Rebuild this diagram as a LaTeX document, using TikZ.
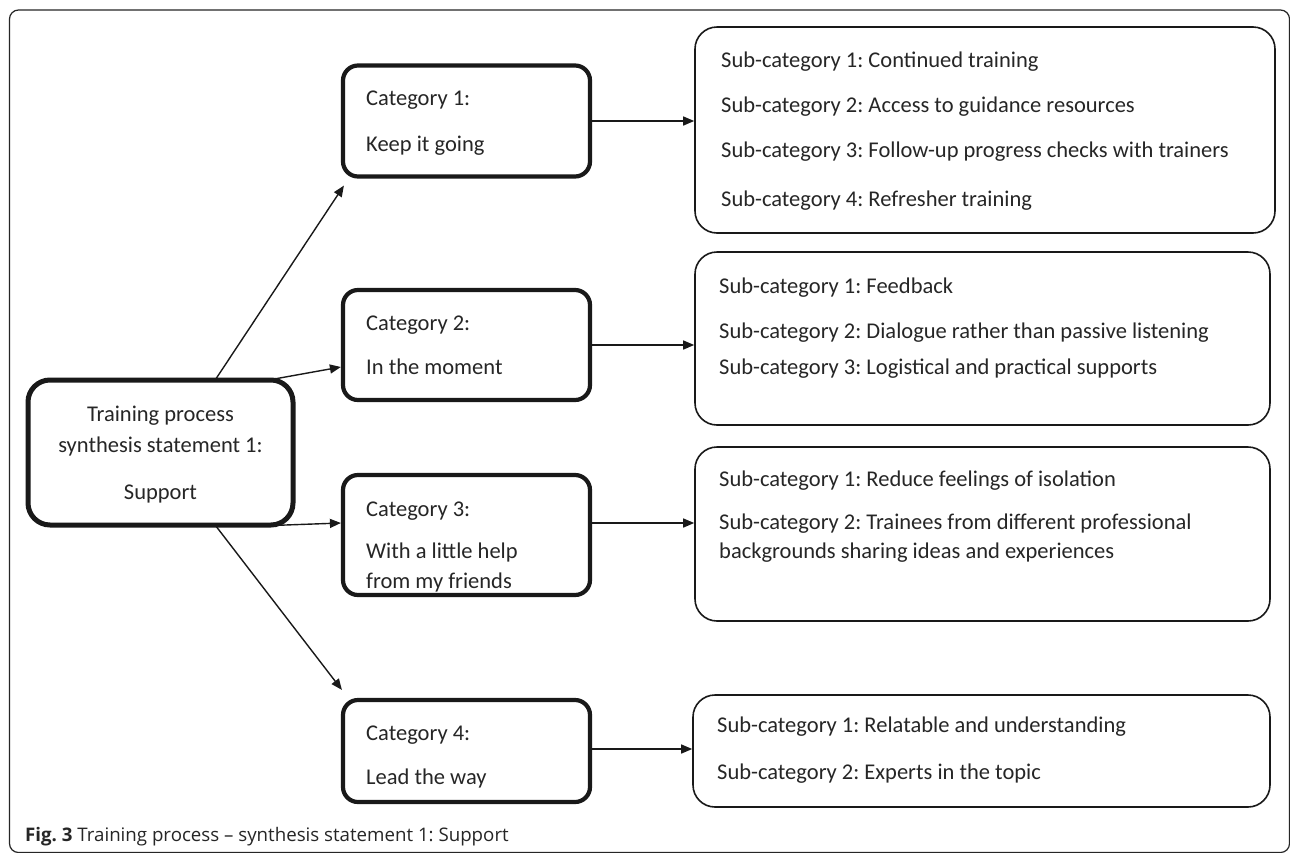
\documentclass[tikz,border=0pt]{standalone}
\usepackage{fontspec}
\setmainfont{Carlito}
\newfontfamily\capfont{Open Sans}
\usetikzlibrary{arrows.meta}
\frenchspacing
\begin{document}
\begin{tikzpicture}[x=1pt,y=-1pt,
  catbox/.style={draw=black!90, line width=4.2pt, rounded corners=15pt, inner sep=0pt},
  subbox/.style={draw=black!90, line width=1.6pt, rounded corners=22pt, inner sep=0pt},
  rootbox/.style={draw=black!90, line width=5pt, rounded corners=22pt, inner sep=0pt},
  txt/.style={anchor=base west, inner sep=0pt, font=\fontsize{22.5}{26}\selectfont, text=black!85},
  ctxt/.style={anchor=base, inner sep=0pt, font=\fontsize{22.5}{26}\selectfont, text=black!85},
  conn/.style={draw=black!90, line width=1.4pt, -{Triangle[length=11pt,width=9pt]}}]
\useasboundingbox (0,0) rectangle (1290,852);
\fill[white] (0,0) rectangle (1290,852);
% outer frame
\draw[line width=1.2pt, black!85, rounded corners=9pt] (9.5,10) rectangle (1289.5,852.5);
% root
\node[rootbox, minimum width=265pt, minimum height=145pt] (root) at (160.5,452.5) {};
\node[ctxt] (r1) at (160.5,421) {Training process};
\node[ctxt] (r2) at (160.5,452) {synthesis statement 1:};
\node[ctxt] (r3) at (160.5,499) {Support};
% categories
\node[catbox, minimum width=247pt, minimum height=111pt] (c1) at (466.5,121) {};
\node[catbox, minimum width=247pt, minimum height=110pt] (c2) at (466.5,345) {};
\node[catbox, minimum width=247pt, minimum height=120pt] (c3) at (466.5,535) {};
\node[catbox, minimum width=247pt, minimum height=102pt] (c4) at (466.5,751) {};
\node[txt] (c1a) at (366,105) {Category 1:};
\node[txt] (c1b) at (366,151) {Keep it going};
\node[txt] (c2a) at (366,330) {Category 2:};
\node[txt] (c2b) at (366,374) {In the moment};
\node[txt] (c3a) at (366,516) {Category 3:};
\node[txt] (c3b) at (366,558) {With a little help};
\node[txt] (c3c) at (366,588) {from my friends};
\node[txt] (c4a) at (366,740) {Category 4:};
\node[txt] (c4b) at (366,784) {Lead the way};
% sub boxes
\node[subbox, minimum width=580pt, minimum height=206pt] (s1) at (985,130) {};
\node[subbox, minimum width=575pt, minimum height=173pt] (s2) at (982.5,338.5) {};
\node[subbox, minimum width=575pt, minimum height=174pt] (s3) at (982.5,534) {};
\node[subbox, minimum width=577pt, minimum height=112pt] (s4) at (981.5,751) {};
\node[txt] (s1a) at (721,67) {Sub-category 1: Continued training};
\node[txt] (s1b) at (721,112) {Sub-category 2: Access to guidance resources};
\node[txt] (s1c) at (721,157) {Sub-category 3: Follow-up progress checks with trainers};
\node[txt] (s1d) at (721,206) {Sub-category 4: Refresher training};
\node[txt] (s2a) at (719,293) {Sub-category 1: Feedback};
\node[txt] (s2b) at (719,338) {Sub-category 2: Dialogue rather than passive listening};
\node[txt] (s2c) at (719,374) {Sub-category 3: Logistical and practical supports};
\node[txt] (s3a) at (719,486) {Sub-category 1: Reduce feelings of isolation};
\node[txt] (s3b) at (719,529) {Sub-category 2: Trainees from different professional};
\node[txt] (s3c) at (719,558) {backgrounds sharing ideas and experiences};
\node[txt] (s4a) at (717,732) {Sub-category 1: Relatable and understanding};
\node[txt] (s4b) at (717,779) {Sub-category 2: Experts in the topic};
% horizontal connectors
\draw[conn] (c1.east) -- (c1.east -| s1.west);
\draw[conn] (c2.east) -- (c2.east -| s2.west);
\draw[conn] ([yshift=12pt]c3.east) -- ([yshift=12pt]c3.east -| s3.west);
\draw[conn] ([yshift=2pt]c4.east) -- ([yshift=2pt]c4.east -| s4.west);
% diagonal connectors
\draw[conn] ([xshift=55pt,yshift=-2pt]root.north) -- ([xshift=3pt,yshift=-7pt]c1.south west);
\draw[conn] ([xshift=111pt,yshift=-2pt]root.north) -- ([yshift=-22pt]c2.west);
\draw[conn] ([xshift=111pt,yshift=2pt]root.south) -- ([yshift=12pt]c3.west);
\draw[conn] ([xshift=55pt,yshift=2pt]root.south) -- ([xshift=1pt,yshift=8pt]c4.north west);
% caption
\node[anchor=base west, inner sep=0pt, font=\capfont\fontsize{18.7}{21}\selectfont, text=black!85] (cap) at (25,841) {\textbf{Fig. 3} Training process – synthesis statement 1: Support};
\end{tikzpicture}
\end{document}
